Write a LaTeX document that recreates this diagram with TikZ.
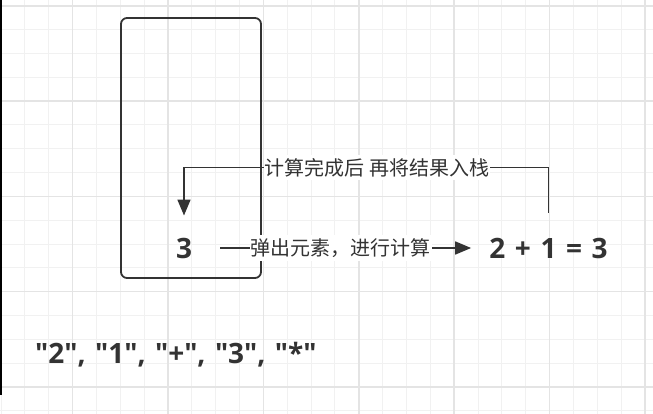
\documentclass[tikz,border=0pt]{standalone}
\usepackage{fontspec}
\setmainfont{Open Sans}[Ligatures=TeXOff]
\newfontfamily\cjk{Noto Sans CJK SC}
\usetikzlibrary{arrows.meta}
\definecolor{ink}{HTML}{333333}
\definecolor{gridminor}{HTML}{F1F1F1}
\definecolor{gridmajor}{HTML}{E4E4E4}

\begin{document}
\begin{tikzpicture}[
  x=1pt, y=-1pt,
  stack/.style={rectangle, rounded corners=6pt, draw=ink, line width=1.8pt,
                minimum width=140pt, minimum height=260pt, inner sep=0pt},
  num/.style={font={\bfseries\fontsize{28}{28}\selectfont\spaceskip=9.4pt\relax},
              text=ink, inner sep=0pt},
  lbl/.style={font=\cjk\fontsize{20}{20}\selectfont, text=ink, fill=white,
              inner xsep=1pt, inner ysep=3pt},
  arrow/.style={-{Triangle[length=16pt, width=13pt]}, draw=ink, line width=1.7pt}
]
\useasboundingbox (0,0) rectangle (653,414);
% background grid
\foreach \k in {0,...,27}
  \draw[gridminor, line width=1pt] ({1+23.85*\k},0) -- ({1+23.85*\k},414);
\foreach \k in {0,...,17}
  \draw[gridminor, line width=1pt] (0,{6+23.8*\k}) -- (653,{6+23.8*\k});
\foreach \k in {3,7,...,27}
  \draw[gridmajor, line width=1.5pt] ({1+23.85*\k},0) -- ({1+23.85*\k},414);
\foreach \k in {0,4,...,16}
  \draw[gridmajor, line width=1.5pt] (0,{6+23.8*\k}) -- (653,{6+23.8*\k});
\fill[black] (0,0) rectangle (1.5,395);

\node[stack] (stack) at (191,148) {};
\node[num] (top) at (184,248) {3};
\node[num, font={\bfseries\fontsize{28}{28}\selectfont\spaceskip=9.6pt\relax}] (expr)
  at (548.5,248) {2 + 1 = 3};
\node[num, anchor=base west] (tokens) at (35,363) {"2", "1", "+", "3", "*"};

\draw[arrow, shorten <=28pt, shorten >=18pt] (top) -- node[lbl] {弹出元素，进行计算} (expr);
\draw[arrow, shorten <=25pt, shorten >=22pt] (expr.north) -- ++(0,-70)
  -| node[lbl, pos=0.235] {计算完成后 再将结果入栈} (top.north);
\end{tikzpicture}
\end{document}
